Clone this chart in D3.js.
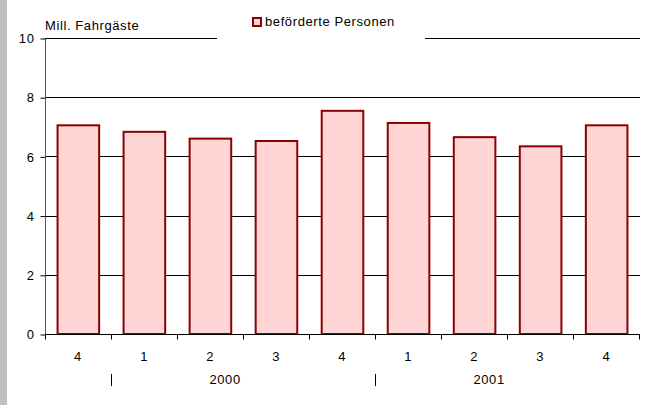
<!DOCTYPE html>
<html>
<head>
<meta charset="utf-8">
<script src="https://cdn.jsdelivr.net/npm/d3@7"></script>
<style>
  body { margin: 0; background: #fff; }
  svg { display: block; font-family: "Liberation Sans", Arial, sans-serif; }
  svg text { letter-spacing: 0.6px; }
</style>
</head>
<body>
<svg id="chart" width="665" height="405"></svg>
<script>
"use strict";
// quarters (Q4 1999 .. Q4 2001)
const quarters = ["4", "1", "2", "3", "4", "1", "2", "3", "4"];
const values = [7.05, 6.83, 6.6, 6.52, 7.54, 7.13, 6.65, 6.34, 7.05];
const years = ["2000", "2001"];
const yTicks = [0, 2, 4, 6, 8, 10];
const seriesName = "beförderte Personen";
const unitLabel = "Mill. Fahrgäste";

(function () {
  const svg = d3.select("#chart");
  const margin = { left: 45, right: 25, top: 38, bottom: 71 };
  const width = 665, height = 405;
  const fs = 13;

  // grey strip on the left edge
  svg.append("rect").attr("x", 0).attr("y", 0).attr("width", 7).attr("height", height).attr("fill", "#c0c0c0");

  const x = d3.scaleBand()
    .domain(d3.range(quarters.length))
    .range([margin.left, width - margin.right])
    .paddingInner(0.37)
    .paddingOuter(0.19);
  const y = d3.scaleLinear().domain([0, 10]).range([height - margin.bottom, margin.top]);

  // gridlines
  svg.append("g")
    .selectAll("line")
    .data(yTicks)
    .join("line")
    .attr("x1", margin.left)
    .attr("x2", width - margin.right)
    .attr("y1", (d) => Math.round(y(d)) + 0.5)
    .attr("y2", (d) => Math.round(y(d)) + 0.5)
    .attr("stroke", "#000");

  // y axis
  const yAxis = svg.append("g")
    .attr("transform", `translate(${margin.left + 0.5},0.5)`)
    .call(d3.axisLeft(y).tickValues(yTicks).tickSize(5).tickPadding(6).tickFormat(d3.format("d")));
  yAxis.select(".domain").attr("stroke", "#555").attr("d", `M0,${Math.round(y(10))}V${Math.round(y(0))}`);
  yAxis.selectAll(".tick line").attr("stroke", "#000");
  yAxis.selectAll("text").attr("font-size", fs).attr("fill", "#000").attr("font-family", null);

  // bars
  svg.append("g")
    .selectAll("rect")
    .data(values)
    .join("rect")
    .attr("x", (d, i) => x(i))
    .attr("y", (d) => y(d))
    .attr("width", x.bandwidth())
    .attr("height", (d) => y(0) - y(d))
    .attr("fill", "#ffd5d5")
    .attr("stroke", "#8b0000")
    .attr("stroke-width", 2);

  // x axis with boundary ticks
  const step = x.step();
  const x0 = margin.left, yb = Math.round(y(0)) + 0.5;
  const bounds = d3.range(quarters.length + 1).map((i) => x0 + i * step);
  const gx = svg.append("g");
  gx.append("line").attr("x1", x0).attr("x2", width - margin.right).attr("y1", yb).attr("y2", yb).attr("stroke", "#000");
  gx.selectAll(".bt")
    .data(bounds)
    .join("line")
    .attr("class", "bt")
    .attr("x1", (d) => Math.round(d) + 0.5)
    .attr("x2", (d) => Math.round(d) + 0.5)
    .attr("y1", yb)
    .attr("y2", yb + 5)
    .attr("stroke", "#000");
  gx.selectAll(".ql")
    .data(quarters)
    .join("text")
    .attr("class", "ql")
    .attr("x", (d, i) => x0 + (i + 0.5) * step)
    .attr("y", 361)
    .attr("text-anchor", "middle")
    .attr("font-size", fs)
    .text((d) => d);

  // year labels with separators
  years.forEach((yr, k) => {
    const start = Math.round(x0 + (1 + 4 * k) * step) + 0.5;
    gx.append("line")
      .attr("x1", start)
      .attr("x2", start)
      .attr("y1", 374)
      .attr("y2", 386)
      .attr("stroke", "#000");
    gx.append("text")
      .attr("x", start + 1.72 * step)
      .attr("y", 384)
      .attr("text-anchor", "middle")
      .attr("font-size", fs)
      .text(yr);
  });

  // unit label
  svg.append("text")
    .attr("x", margin.left)
    .attr("y", 30)
    .attr("font-size", fs)
    .text(unitLabel);

  // legend
  const lg = svg.append("g");
  lg.append("rect").attr("x", 217).attr("y", 8).attr("width", 208).attr("height", 33).attr("fill", "#fff");
  lg.append("rect").attr("x", 253).attr("y", 18).attr("width", 8).attr("height", 8)
    .attr("fill", "#ffd5d5").attr("stroke", "#8b0000").attr("stroke-width", 2);
  lg.append("text").attr("x", 265).attr("y", 26).attr("font-size", fs).text(seriesName);
})();
</script>
</body>
</html>
